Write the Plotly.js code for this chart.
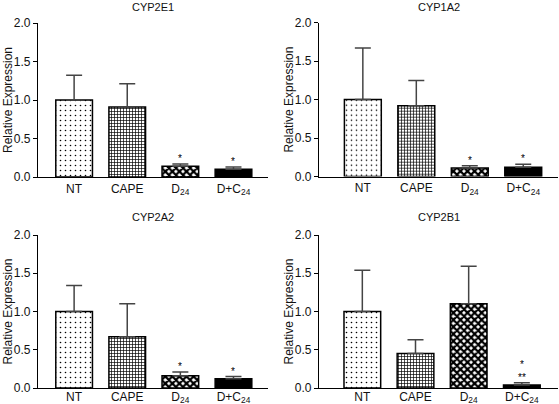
<!DOCTYPE html>
<html>
<head>
<meta charset="utf-8">
<script src="https://cdn.plot.ly/plotly-3.0.1.min.js"></script>
<style>html,body{margin:0;padding:0;background:#fff}#chart{width:559px;height:404px}</style>
</head>
<body>
<div id="chart"></div>
<script>
// ---- data ----
const categories = ['NT', 'CAPE', 'D<sub>24</sub>', 'D+C<sub>24</sub>'];
const panelTitles = ['CYP2E1', 'CYP1A2', 'CYP2A2', 'CYP2B1'];

const cyp2e1 = [1.00, 0.91, 0.14, 0.10];
const cyp2e1Err = [0.32, 0.30, 0.03, 0.03];
const cyp2e1Sig = ['', '', '*', '*'];

const cyp1a2 = [1.00, 0.92, 0.11, 0.12];
const cyp1a2Err = [0.67, 0.33, 0.03, 0.04];
const cyp1a2Sig = ['', '', '*', '*'];

const cyp2a2 = [1.00, 0.67, 0.16, 0.12];
const cyp2a2Err = [0.34, 0.43, 0.05, 0.03];
const cyp2a2Sig = ['', '', '*', '*'];

const cyp2b1 = [1.00, 0.45, 1.10, 0.04];
const cyp2b1Err = [0.54, 0.18, 0.49, 0.03];
const cyp2b1Sig = ['', '', '', '*<br>**'];

const yTickVals = [0, 0.5, 1.0, 1.5, 2.0];
const yTitle = 'Relative Expression';

// ---- styling ----
const FONT = 'Liberation Sans, Arial, sans-serif';
const patterns = [
  {shape: '.', size: 5, solidity: 0.08, fgcolor: '#000', bgcolor: '#fff'},
  {shape: '+', size: 3, solidity: 0.4, fgcolor: '#000', bgcolor: '#fff'},
  {shape: 'x', size: 5, solidity: 0.7, fgcolor: '#000', bgcolor: '#fff'},
  null
];
const barColors = ['#fff', '#fff', '#fff', '#000'];

const panels = [
  {vals: cyp2e1, err: cyp2e1Err, sig: cyp2e1Sig, xd: [38, 268], yd: [177, 23], xr: [-0.68, 3.65], so: 0},
  {vals: cyp1a2, err: cyp1a2Err, sig: cyp1a2Sig, xd: [319, 558], yd: [176.5, 22.7], xr: [-0.82, 3.65], so: 0},
  {vals: cyp2a2, err: cyp2a2Err, sig: cyp2a2Sig, xd: [38, 268], yd: [388, 235], xr: [-0.68, 3.65], so: -3},
  {vals: cyp2b1, err: cyp2b1Err, sig: cyp2b1Sig, xd: [319, 558], yd: [388, 235], xr: [-0.815, 3.68], so: -3}
];

const W = 559, H = 404;
const traces = [];
const layout = {
  width: W, height: H,
  margin: {l: 0, r: 0, t: 0, b: 0},
  paper_bgcolor: '#fff', plot_bgcolor: '#fff',
  showlegend: false, barmode: 'overlay',
  font: {family: FONT, size: 12, color: '#111'},
  annotations: []
};

panels.forEach((p, i) => {
  const n = i + 1;
  const xa = 'x' + (n === 1 ? '' : n), ya = 'y' + (n === 1 ? '' : n);
  const xk = 'xaxis' + (n === 1 ? '' : n), yk = 'yaxis' + (n === 1 ? '' : n);
  categories.forEach((c, j) => {
    const marker = {color: barColors[j], line: {color: '#000', width: 1.5}};
    if (patterns[j]) marker.pattern = Object.assign({fillmode: 'replace'}, patterns[j]);
    traces.push({
      type: 'bar', x: [c], y: [p.vals[j]], xaxis: xa, yaxis: ya,
      width: 0.69, marker: marker,
      error_y: {type: 'data', symmetric: false, array: [p.err[j]], arrayminus: [0],
        color: '#444', thickness: 1.5, width: 8},
      hoverinfo: 'skip'
    });
  });
  const xdom = [p.xd[0] / W, p.xd[1] / W];
  const ydom = [1 - p.yd[0] / H, 1 - p.yd[1] / H];
  layout[xk] = {
    domain: xdom, type: 'category', categoryorder: 'array', categoryarray: categories,
    range: p.xr, showline: true, linecolor: '#000', linewidth: 1.3, ticks: '',
    showgrid: false, zeroline: false, anchor: ya, fixedrange: true,
    ticklabelstandoff: p.so,
    tickfont: {family: FONT, size: 12, color: '#111'}
  };
  layout[yk] = {
    domain: ydom, range: [0, 2], tickvals: yTickVals, tickformat: '.1f',
    showline: true, linecolor: '#000', linewidth: 1.3, ticks: 'outside', ticklen: 4,
    tickwidth: 1.2, tickcolor: '#000', showgrid: false, zeroline: false, anchor: xa,
    fixedrange: true, tickfont: {family: FONT, size: 12, color: '#111'}
  };
  // panel title
  layout.annotations.push({
    text: panelTitles[i], xref: 'paper', yref: 'paper',
    x: (xdom[0] + xdom[1]) / 2, y: i < 2 ? 1 - 6.5 / H : 1 - 217 / H,
    xanchor: 'center', yanchor: 'middle', showarrow: false,
    font: {family: FONT, size: 11, color: '#111'}
  });
  // y title
  layout.annotations.push({
    text: yTitle, xref: 'paper', yref: 'paper', textangle: -90,
    x: (p.xd[0] - 30) / W, y: (ydom[0] + ydom[1]) / 2,
    xanchor: 'center', yanchor: 'middle', showarrow: false,
    font: {family: FONT, size: 12, color: '#111'}
  });
  // significance marks
  p.sig.forEach((s, j) => {
    if (!s) return;
    layout.annotations.push({
      text: s, xref: xa, yref: ya, x: categories[j], y: p.vals[j] + p.err[j],
      xanchor: 'center', yanchor: 'bottom', yshift: -2, showarrow: false,
      font: {family: FONT, size: 10, color: '#000'}
    });
  });
});

Plotly.newPlot('chart', traces, layout, {displayModeBar: false});
</script>
</body>
</html>
